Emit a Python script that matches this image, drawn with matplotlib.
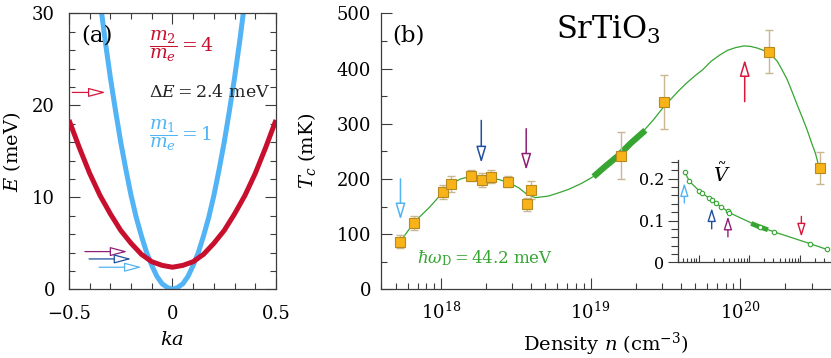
import matplotlib
matplotlib.use('Agg')
import numpy as np
import matplotlib.pyplot as plt
from matplotlib.ticker import MultipleLocator, LogLocator, NullFormatter, FixedLocator

plt.rcParams['font.family'] = ['DejaVu Serif']
plt.rcParams['mathtext.fontset'] = 'dejavuserif'

# ---- panel (a): band dispersions ----
ka_m1 = [-0.35, -0.325, -0.3, -0.275, -0.25, -0.225, -0.2, -0.175, -0.15, -0.125, -0.1, -0.075,
         -0.05, -0.025, 0, 0.025, 0.05, 0.075, 0.1, 0.125, 0.15, 0.175, 0.2, 0.225, 0.25, 0.275,
         0.3, 0.325, 0.35]
E_m1 = [31.4, 27.0, 23.0, 19.4, 16.0, 13.0, 10.2, 7.8, 5.8, 4.0, 2.6, 1.4, 0.6, 0.2, 0.0,
        0.2, 0.6, 1.4, 2.6, 4.0, 5.8, 7.8, 10.2, 13.0, 16.0, 19.4, 23.0, 27.0, 31.4]
ka_m2 = [-0.5, -0.45, -0.4, -0.35, -0.3, -0.25, -0.2, -0.15, -0.1, -0.05, 0, 0.05, 0.1, 0.15,
         0.2, 0.25, 0.3, 0.35, 0.4, 0.45, 0.5]
E_m2 = [18.4, 15.4, 12.6, 10.2, 8.2, 6.4, 5.0, 3.8, 3.0, 2.6, 2.4, 2.6, 3.0, 3.8, 5.0, 6.4,
        8.2, 10.2, 12.6, 15.4, 18.4]

# Fermi level arrows in (a)
fermi_E = [21.4, 4.1, 3.3, 2.4]
fermi_ka_tail = [-0.484, -0.423, -0.403, -0.355]
fermi_ka_tip = [-0.323, -0.218, -0.199, -0.149]

# ---- panel (b): Tc vs density ----
logn = [17.73, 17.82, 18.013, 18.068, 18.204, 18.272, 18.336, 18.447, 18.575, 18.605,
        19.204, 19.49, 20.193, 20.53]
Tc = [86, 120, 176, 191, 206, 198, 204, 195, 154, 180, 242, 339, 430, 220]
Tc_err = [11.5, 13, 13, 14.5, 10.5, 12.5, 12, 10.5, 12, 16.5, 43, 49, 39, 29]

curve_logn = [17.73, 17.823, 17.922, 18.011, 18.066, 18.133, 18.206, 18.274, 18.387, 18.454,
              18.52, 18.575, 18.631, 18.72, 18.80, 18.853, 18.941, 19.03, 19.11, 19.185,
              19.27, 19.351, 19.42, 19.49, 19.583, 19.639, 19.694, 19.75, 19.805, 19.861,
              19.916, 19.971, 20.027, 20.07, 20.115, 20.186, 20.215, 20.248, 20.281, 20.314,
              20.348, 20.381, 20.414, 20.447, 20.48, 20.502, 20.525]
curve_T = [87, 122, 148, 175, 191, 200, 205, 202, 199, 193,
           184, 172, 166, 169, 176, 181, 192, 206, 223, 242,
           265, 286, 307, 331, 358, 373, 386, 398, 413, 424,
           433, 438, 441, 440, 437, 430, 423, 413, 397, 380,
           357, 334, 312, 289, 263, 247, 223]
thick_logn = [19.02, 19.10, 19.185, 19.27, 19.366]
thick_T = [204, 223, 242, 265, 288]

arrow_logn = [17.73, 18.27, 18.57, 20.03]
arrow_tail_T = [200, 306, 291, 340]
arrow_tip_T = [126, 229, 216, 416]

# ---- inset: coupling V ----
V = [0.216, 0.194, 0.171, 0.166, 0.154, 0.148, 0.142, 0.133, 0.122, 0.119, 0.085, 0.073,
     0.045, 0.031]
thick_V_logn = [19.04, 19.2, 19.37]
thick_V = [0.093, 0.085, 0.078]
inset_arrow_logn = [17.72, 18.26, 18.58, 20.03]
inset_tail_V = [0.142, 0.080, 0.061, 0.110]
inset_tip_V = [0.190, 0.130, 0.110, 0.061]

red = '#c8102e'
sky = '#52b4f5'
navy = '#1f4f9e'
purple = '#8e1f74'
arrow_red = '#d8173a'
green = '#36a532'
orange = '#f7b318'
orange_edge = '#b88a1e'
err_col = '#c8b791'
axis_col = '#3c3c3c'
arrow_cols = [arrow_red, purple, navy, sky]
b_arrow_cols = [sky, navy, purple, arrow_red]


def open_arrow(ax, tail, tip, col, lw=1.0, hl=1.05, hw=0.28):
    ax.annotate('', xy=tip, xytext=tail,
                arrowprops=dict(arrowstyle='-|>,head_length=%g,head_width=%g' % (hl, hw),
                                fc='white', ec=col, lw=lw, mutation_scale=10,
                                shrinkA=0, shrinkB=0))


fig = plt.figure(figsize=(8.31, 3.58), dpi=100)

# ================= (a) =================
ax = fig.add_axes([0.0830, 0.1919, 0.2491, 0.7709])
ax.plot(ka_m2, E_m2, color=red, lw=3.6, solid_capstyle='butt', zorder=3)
ax.plot(ka_m1, E_m1, color=sky, lw=3.6, solid_capstyle='butt', zorder=2)
for e, t0, t1, c in zip(fermi_E, fermi_ka_tail, fermi_ka_tip, arrow_cols):
    open_arrow(ax, (t0, e), (t1, e), c, lw=0.9)
ax.set_xlim(-0.5, 0.5)
ax.set_ylim(0, 30)
ax.set_xticks([-0.5, 0, 0.5])
ax.set_xticklabels(['\u22120.5', '0', '0.5'])
ax.set_yticks([0, 10, 20, 30])
ax.xaxis.set_minor_locator(MultipleLocator(0.1))
ax.yaxis.set_minor_locator(MultipleLocator(2))
ax.tick_params(which='both', direction='in', top=True, right=True, color=axis_col, width=0.8)
ax.tick_params(which='major', length=8, labelsize=13)
ax.tick_params(which='minor', length=4)
ax.tick_params(axis='y', pad=10)
ax.tick_params(axis='x', pad=11)
for s in ax.spines.values():
    s.set_color(axis_col)
    s.set_linewidth(0.9)
ax.set_xlabel('$ka$', fontsize=14)
ax.set_ylabel('$E$ (meV)', fontsize=14)
ax.xaxis.set_label_coords(0.5, -0.15)
ax.yaxis.set_label_coords(-0.222, 0.5)
ax.text(-0.44, 27.6, '(a)', fontsize=16.5, ha='left', va='center')
ax.text(-0.114, 26.4, r'$\dfrac{m_2}{m_e} = 4$', fontsize=13.5, color=red, ha='left', va='center')
ax.text(-0.114, 21.4, r'$\Delta E = 2.4$ meV', fontsize=12.5, color='#222222', ha='left', va='center')
ax.text(-0.114, 16.8, r'$\dfrac{m_1}{m_e} = 1$', fontsize=13.5, color=sky, ha='left', va='center')

# ================= (b) =================
bx = fig.add_axes([0.4585, 0.1919, 0.5403, 0.7709])
dens = [10 ** v for v in logn]
bx.plot([10 ** v for v in curve_logn], curve_T, color=green, lw=0.9, zorder=2)
bx.plot([10 ** v for v in thick_logn], thick_T, color=green, lw=4.5, solid_capstyle='butt', zorder=2)
bx.errorbar(dens, Tc, yerr=Tc_err, fmt='none', ecolor=err_col, elinewidth=1.0, capsize=3,
            capthick=1.0, zorder=3)
bx.plot(dens, Tc, 's', ms=6.5, mfc=orange, mec=orange_edge, mew=0.8, zorder=4)
for x, y0, y1, c in zip(arrow_logn, arrow_tail_T, arrow_tip_T, b_arrow_cols):
    open_arrow(bx, (10 ** x, y0), (10 ** x, y1), c, lw=1.1, hl=1.0, hw=0.3)
bx.set_xscale('log')
bx.set_xlim(10 ** 17.6, 10 ** 20.6)
bx.set_ylim(0, 500)
bx.yaxis.set_major_locator(MultipleLocator(100))
bx.yaxis.set_minor_locator(MultipleLocator(50))
bx.xaxis.set_major_locator(LogLocator(base=10, numticks=10))
bx.xaxis.set_minor_locator(LogLocator(base=10, subs=np.arange(2, 10), numticks=20))
bx.xaxis.set_minor_formatter(NullFormatter())
bx.spines['top'].set_visible(False)
bx.spines['right'].set_visible(False)
for s in ['left', 'bottom']:
    bx.spines[s].set_color(axis_col)
    bx.spines[s].set_linewidth(0.9)
bx.tick_params(which='both', direction='in', color=axis_col, width=0.8)
bx.tick_params(which='major', length=8, labelsize=13)
bx.tick_params(which='minor', length=4)
bx.tick_params(axis='y', pad=7)
bx.tick_params(axis='x', pad=9)
bx.set_xlabel('Density $n$ (cm$^{-3}$)', fontsize=14)
bx.set_ylabel('$T_c$ (mK)', fontsize=14)
bx.xaxis.set_label_coords(0.5, -0.15)
bx.yaxis.set_label_coords(-0.14, 0.5)
bx.text(0.024, 0.921, '(b)', transform=bx.transAxes, fontsize=16.5, ha='left', va='center')
bx.text(0.39, 0.909, 'SrTiO$_3$', transform=bx.transAxes, fontsize=22, ha='left', va='baseline')
bx.text(0.0795, 0.113, r'$\hbar\omega_\mathrm{D} = 44.2$ meV', transform=bx.transAxes,
        fontsize=12, color=green, ha='left', va='center')

# ================= inset =================
ix = fig.add_axes([0.8162, 0.2673, 0.1829, 0.2858])
ix.patch.set_alpha(0)
ix.plot(dens, V, '-', color=green, lw=0.9, zorder=2)
ix.plot([10 ** v for v in thick_V_logn], thick_V, color=green, lw=3.5, solid_capstyle='butt', zorder=3)
ix.plot(dens, V, 'o', ms=3.2, mfc='white', mec=green, mew=0.8, zorder=4)
for x, y0, y1, c in zip(inset_arrow_logn, inset_tail_V, inset_tip_V, b_arrow_cols):
    open_arrow(ix, (10 ** x, y0), (10 ** x, y1), c, lw=1.0, hl=0.8, hw=0.25)
ix.set_xscale('log')
ix.set_xlim(10 ** 17.6, 10 ** 20.6)
ix.set_ylim(0, 0.245)
ix.yaxis.set_major_locator(FixedLocator([0, 0.1, 0.2]))
ix.set_yticklabels(['0', '0.1', '0.2'])
ix.yaxis.set_minor_locator(MultipleLocator(0.02))
ix.xaxis.set_major_locator(LogLocator(base=10, numticks=10))
ix.xaxis.set_minor_locator(LogLocator(base=10, subs=np.arange(2, 10), numticks=20))
ix.xaxis.set_major_formatter(NullFormatter())
ix.xaxis.set_minor_formatter(NullFormatter())
ix.spines['top'].set_visible(False)
ix.spines['right'].set_visible(False)
for s in ['left', 'bottom']:
    ix.spines[s].set_color(axis_col)
    ix.spines[s].set_linewidth(0.9)
ix.tick_params(axis='y', which='both', direction='out', color=axis_col, width=0.8)
ix.tick_params(axis='y', which='major', length=7, labelsize=11.5, pad=3)
ix.tick_params(axis='y', which='minor', length=5)
ix.tick_params(axis='x', which='both', direction='in', color=axis_col, width=0.8)
ix.tick_params(axis='x', which='major', length=5)
ix.tick_params(axis='x', which='minor', length=3)
ix.text(0.29, 0.86, r'$\tilde{V}$', transform=ix.transAxes, fontsize=14, ha='center', va='center')

fig.savefig('out.png', dpi=100)
